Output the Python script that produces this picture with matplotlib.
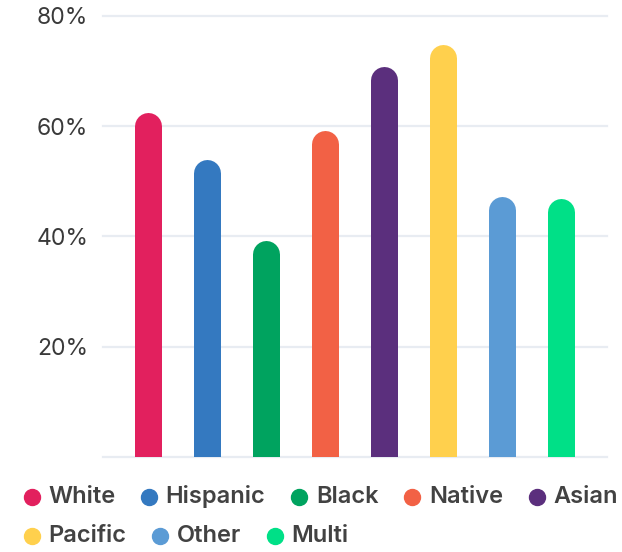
import matplotlib.pyplot as plt
from matplotlib.lines import Line2D

# данные
groups = ['White', 'Hispanic', 'Black', 'Native', 'Asian', 'Pacific', 'Other', 'Multi']
values = [62.5, 53.9, 39.2, 59.3, 70.9, 74.9, 47.3, 46.9]
colors = ['#E2205E', '#3479C0', '#00A35F', '#F26145', '#5B2F7D', '#FFD04D', '#5B9BD5', '#00E087']
yticks = [20, 40, 60, 80]

plt.rcParams['font.family'] = ['Inter', 'DejaVu Sans']

fig = plt.figure(figsize=(6.22, 5.52), dpi=100)
ax = fig.add_axes([103 / 622, (552 - 456.7) / 552, 504 / 622, (456.7 - 16) / 552])
ax.set_ylim(0, 80)
ax.set_xlim(-45 / 59, 7 + 46 / 59)

# сетка
for t in [0] + yticks:
    ax.axhline(t, color='#E8ECF2', lw=1.6, zorder=0, clip_on=False)

# столбики со скругленным верхом
bar_px = 27
lw_pt = bar_px * 72 / 100
px_per_unit = (456.7 - 16) / 80
r = bar_px / 2 / px_per_unit
for i, (v, c) in enumerate(zip(values, colors)):
    ax.plot([i, i], [-5, v - r], color=c, lw=lw_pt, solid_capstyle='round', zorder=2)

ax.set_yticks(yticks)
ax.set_yticklabels([f'{t}%' for t in yticks], fontsize=16.5, color='#3a3a3a')
ax.tick_params(axis='y', length=0, pad=10.5)
ax.set_xticks([])
for s in ax.spines.values():
    s.set_visible(False)

# легенда в две строки
rows = [groups[:5], groups[5:]]
row_y = [497, 536]
fig.canvas.draw()
renderer = fig.canvas.get_renderer()
k = 0
for row, y in zip(rows, row_y):
    x = 31.5
    for name in row:
        fy = 1 - y / 552
        fig.add_artist(Line2D([x / 622], [fy], marker='o', markersize=11.5,
                              color=colors[k], transform=fig.transFigure, lw=0))
        txt = fig.text((x + 16.5) / 622, fy, name, fontsize=17, fontweight='semibold',
                       color='#424242', va='center', ha='left')
        w = txt.get_window_extent(renderer).width
        x = x + 16.5 + w + 34
        k += 1

fig.savefig('out.png', dpi=100)
